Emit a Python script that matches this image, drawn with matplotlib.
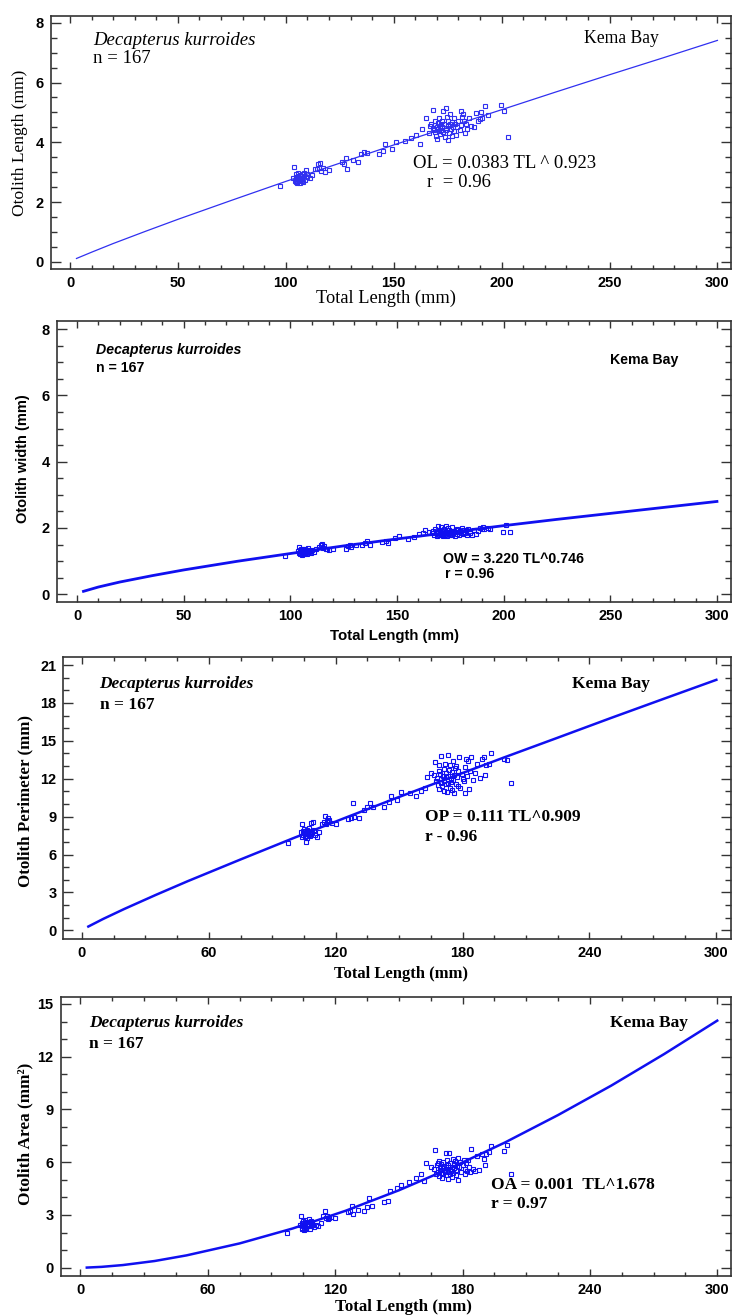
import matplotlib
matplotlib.use('Agg')
import matplotlib.pyplot as plt
from matplotlib.ticker import MultipleLocator
from matplotlib import font_manager

# Total length (mm) of each fish, same order in every otolith list below
tl = [97.5, 103.5, 104.0, 104.2, 104.5, 104.5, 104.8, 105.0, 105.3, 105.5,
      105.6, 105.8, 106.0, 106.3, 106.5, 106.5, 106.8, 107.0, 107.3, 107.5,
      107.6, 108.0, 108.4, 108.5, 108.8, 109.2, 109.6, 110.0, 111.0, 112.0,
      113.5, 114.5, 115.0, 115.5, 116.0, 116.5, 117.0, 118.0, 120.0,
      126.0, 127.0, 128.0, 128.5, 131.0, 133.5, 135.0, 136.0, 137.5, 143.0,
      145.0, 146.0, 149.0, 151.0, 155.0, 158.0, 160.5, 162.0, 163.0, 165.0,
      166.5, 167.0, 167.5, 168.0, 168.3, 168.6, 169.0, 169.0, 169.3, 169.6,
      170.0, 170.0, 170.3, 170.6, 171.0, 171.0, 171.3, 171.6, 172.0, 172.0,
      172.3, 172.6, 173.0, 173.0, 173.3, 173.6, 174.0, 174.0, 174.3, 174.6,
      175.0, 175.0, 175.3, 175.6, 176.0, 176.0, 176.5, 177.0, 177.0, 177.5,
      178.0, 178.0, 178.5, 179.0, 179.5, 180.0, 180.5, 181.0, 181.0, 181.5,
      182.0, 182.5, 183.0, 183.5, 184.0, 185.0, 186.0, 187.0, 188.0, 189.0,
      190.0, 190.5, 191.0, 192.5, 193.5, 199.5, 201.0, 203.0]

# otolith length (mm)
ol = [2.52, 2.80, 3.18, 2.72, 2.85, 2.68, 2.95, 2.78, 2.62, 2.88,
      2.75, 2.96, 2.70, 2.82, 2.64, 2.90, 2.77, 2.86, 2.72, 2.95,
      2.80, 2.68, 2.88, 2.98, 2.74, 3.07, 2.85, 2.93, 2.80, 2.90,
      3.12, 3.10, 3.28, 3.14, 3.30, 3.05, 3.15, 3.02, 3.06,
      3.34, 3.27, 3.49, 3.12, 3.40, 3.34, 3.62, 3.68, 3.64, 3.60,
      3.72, 3.94, 3.78, 4.02, 4.05, 4.15, 4.24, 3.94, 4.45, 4.82,
      4.30, 4.55, 4.62, 4.48, 5.07, 4.40, 4.58, 4.35, 4.70, 4.22,
      4.52, 4.12, 4.65, 4.45, 4.38, 4.80, 4.55, 4.28, 4.60, 4.42,
      4.70, 4.50, 4.35, 5.03, 4.62, 4.18, 4.48, 5.15, 4.40, 4.85,
      4.55, 4.08, 4.72, 4.30, 4.60, 4.95, 4.45, 4.68, 4.22, 4.52,
      4.38, 4.80, 4.62, 4.25, 4.50, 4.70, 4.40, 5.05, 4.58, 4.85,
      4.95, 4.72, 4.30, 4.60, 4.45, 4.80, 4.55, 4.52, 4.98, 4.70,
      4.78, 5.02, 4.80, 5.20, 4.90, 5.26, 5.06, 4.19]

# otolith width (mm)
ow = [1.17, 1.30, 1.42, 1.25, 1.35, 1.22, 1.38, 1.28, 1.20, 1.33,
      1.27, 1.36, 1.24, 1.31, 1.22, 1.34, 1.29, 1.37, 1.26, 1.32,
      1.28, 1.23, 1.35, 1.40, 1.27, 1.30, 1.25, 1.33, 1.28, 1.36,
      1.42, 1.48, 1.52, 1.40, 1.45, 1.36, 1.38, 1.35, 1.37,
      1.38, 1.45, 1.50, 1.42, 1.48, 1.49, 1.55, 1.60, 1.50, 1.58,
      1.62, 1.56, 1.70, 1.75, 1.68, 1.72, 1.82, 1.85, 1.95, 1.88,
      1.85, 1.92, 1.80, 1.98, 1.88, 1.76, 2.05, 1.84, 1.90, 1.78,
      1.94, 1.82, 1.87, 2.02, 1.79, 1.91, 1.86, 1.75, 1.96, 1.83,
      1.89, 1.80, 2.06, 1.85, 1.93, 1.77, 1.88, 2.00, 1.82, 1.95,
      1.86, 1.78, 1.92, 1.84, 2.03, 1.80, 1.90, 1.87, 1.76, 1.94,
      1.83, 1.97, 1.88, 1.79, 1.92, 1.85, 2.00, 1.81, 1.95, 1.89,
      1.86, 1.93, 1.80, 1.98, 1.84, 1.78, 1.95, 1.82, 1.90, 2.00,
      1.98, 2.02, 1.96, 2.00, 1.97, 1.87, 2.08, 1.89]

# otolith perimeter (mm)
op = [6.90, 7.75, 8.40, 7.35, 7.90, 7.55, 8.05, 7.70, 7.40, 7.85,
      7.60, 6.98, 7.80, 7.50, 7.95, 7.30, 7.72, 7.88, 7.58, 8.10,
      7.65, 7.45, 7.82, 8.50, 7.68, 8.55, 7.92, 7.55, 7.40, 7.75,
      8.45, 8.55, 9.08, 8.40, 8.62, 8.92, 8.70, 8.48, 8.45,
      8.85, 8.92, 10.05, 9.00, 8.92, 9.55, 9.75, 10.05, 9.80, 9.78,
      10.15, 10.65, 10.30, 10.95, 10.90, 10.65, 11.05, 11.30, 12.10, 12.45,
      12.30, 13.35, 11.80, 12.05, 11.50, 12.60, 13.10, 11.20, 12.40, 11.70,
      12.00, 13.80, 11.40, 12.25, 11.00, 12.80, 11.85, 13.20, 12.10, 11.55,
      12.45, 10.95, 13.90, 12.20, 11.65, 12.70, 11.30, 13.05, 12.00, 11.75,
      12.55, 11.10, 13.40, 11.90, 12.30, 10.85, 12.85, 11.60, 13.00, 12.15,
      11.45, 12.65, 13.70, 11.25, 12.35, 12.00, 11.80, 12.90, 10.90, 13.55,
      12.20, 13.40, 11.15, 12.60, 13.75, 11.90, 12.45, 13.20, 12.05, 13.60,
      13.75, 12.30, 13.10, 13.20, 14.00, 13.60, 13.50, 11.70]

# otolith area (mm2)
oa = [1.95, 2.40, 2.95, 2.25, 2.55, 2.20, 2.65, 2.35, 2.15, 2.50,
      2.30, 2.70, 2.42, 2.18, 2.58, 2.28, 2.48, 2.62, 2.38, 2.75,
      2.45, 2.22, 2.52, 2.68, 2.35, 2.58, 2.42, 2.30, 2.45, 2.38,
      2.55, 2.96, 3.25, 2.80, 2.95, 2.75, 2.82, 2.88, 2.85,
      3.15, 3.20, 3.50, 3.05, 3.28, 3.22, 3.45, 3.95, 3.50, 3.72,
      3.80, 4.35, 4.55, 4.70, 4.85, 5.10, 5.35, 4.92, 5.95, 5.75,
      5.60, 6.70, 5.30, 5.85, 5.45, 5.95, 5.20, 6.05, 5.55, 5.75,
      5.40, 5.90, 5.10, 5.65, 6.00, 5.35, 5.80, 5.50, 6.50, 5.25,
      5.70, 6.10, 5.45, 5.05, 5.85, 6.50, 5.60, 5.30, 5.95, 5.50,
      5.75, 5.15, 6.20, 5.40, 5.90, 5.65, 6.05, 5.25, 5.55, 5.80,
      6.25, 4.98, 5.70, 6.00, 5.45, 5.85, 6.15, 5.60, 5.35, 5.95,
      5.50, 6.15, 5.75, 5.45, 6.75, 5.60, 5.50, 6.35, 5.55, 6.45,
      6.20, 5.85, 6.45, 6.60, 6.90, 6.65, 6.95, 5.33]

# fitted power curves at these lengths
fit_tl = [3, 10, 20, 35, 50, 75, 100, 125, 150, 175, 200, 225, 250, 275, 300]
fit_ol = [0.11, 0.32, 0.61, 1.02, 1.42, 2.06, 2.69, 3.30, 3.91, 4.50, 5.09, 5.68, 6.26, 6.83, 7.41]
fit_ow = [0.09, 0.22, 0.37, 0.56, 0.735, 0.995, 1.23, 1.46, 1.67, 1.87, 2.07, 2.26, 2.44, 2.62, 2.80]
fit_op = [0.30, 0.90, 1.69, 2.81, 3.89, 5.61, 7.30, 8.94, 10.56, 12.14, 13.71, 15.25, 16.80, 18.32, 19.83]
fit_oa = [0.006, 0.047, 0.149, 0.38, 0.70, 1.38, 2.23, 3.24, 4.40, 5.70, 7.12, 8.68, 10.35, 12.15, 14.05]

species = "Decapterus kurroides"
n_label = "n = 167"
site = "Kema Bay"
y_labels = ["Otolith Length (mm)", "Otolith width (mm)",
            "Otolith Perimeter (mm)", "Otolith Area (mm²)"]
x_label = "Total Length (mm)"
equations = ["OL = 0.0383 TL ^ 0.923", "OW = 3.220 TL^0.746",
             "OP = 0.111 TL^0.909", "OA = 0.001  TL^1.678"]
r_labels = ["r  = 0.96", "r = 0.96", "r - 0.96", "r = 0.97"]

names = {f.name for f in font_manager.fontManager.ttflist}
if 'Liberation Sans Narrow' in names:
    SANS, SANS_SIZE = 'Liberation Sans Narrow', 12.5
else:
    SANS, SANS_SIZE = 'Liberation Sans', 10.5
SERIF = 'Liberation Serif'

BLUE = '#1010f0'

# per panel: axes rect, limits, tick steps, text style
panels = [
    dict(rect=[0.0696, 0.7954, 0.9277, 0.1926], xlim=(-8.8, 306.3), ylim=(-0.244, 8.234),
         xmaj=50, xmin=10, ymaj=2, ymin=0.5, fam=SERIF, size=13.5, site_size=12.7,
         weight='normal', xl_size=13.2, yl_size=12.5, lw=0.9, col='#3030f0',
         sp=(0.062, 0.904), n=(0.062, 0.833), site=(0.784, 0.912),
         eq=(0.532, 0.418), r=(0.553, 0.343), xl=(0.493, -0.1145), yl=(-0.0456, 0.499)),
    dict(rect=[0.0778, 0.5422, 0.9195, 0.2139], xlim=(-9.4, 306.6), ylim=(-0.232, 8.25),
         xmaj=50, xmin=10, ymaj=2, ymin=0.5, fam=SANS, size=SANS_SIZE - 0.3,
         site_size=SANS_SIZE - 0.3, weight='bold', xl_size=SANS_SIZE + 0.3,
         yl_size=SANS_SIZE, lw=2.0, col=BLUE,
         sp=(0.058, 0.896), n=(0.058, 0.832), site=(0.8205, 0.860),
         eq=(0.5727, 0.153), r=(0.5757, 0.0995), xl=(0.5006, -0.1198), yl=(-0.0499, 0.511)),
    dict(rect=[0.0866, 0.2859, 0.9106, 0.2147], xlim=(-8.75, 306.9), ylim=(-0.69, 21.66),
         xmaj=60, xmin=15, ymaj=3, ymin=1, fam=SERIF, size=12.5, site_size=12.5,
         weight='bold', xl_size=12, yl_size=12.2, lw=1.8, col=BLUE,
         sp=(0.054, 0.903), n=(0.054, 0.829), site=(0.762, 0.903),
         eq=(0.5416, 0.432), r=(0.5416, 0.361), xl=(0.505, -0.124), yl=(-0.0566, 0.4896)),
    dict(rect=[0.0828, 0.0299, 0.9145, 0.2122], xlim=(-9.3, 306.5), ylim=(-0.455, 15.415),
         xmaj=60, xmin=15, ymaj=3, ymin=1, fam=SERIF, size=12.5, site_size=12.5,
         weight='bold', xl_size=12.2, yl_size=12.4, lw=1.8, col=BLUE,
         sp=(0.0422, 0.906), n=(0.0422, 0.830), site=(0.8195, 0.906),
         eq=(0.642, 0.325), r=(0.642, 0.257), xl=(0.5107, -0.111), yl=(-0.0522, 0.507)),
]

values = [ol, ow, op, oa]
fits = [fit_ol, fit_ow, fit_op, fit_oa]

fig = plt.figure(figsize=(7.33, 13.15), dpi=100)

for i, p in enumerate(panels):
    ax = fig.add_axes(p['rect'])
    ax.plot(fit_tl, fits[i], color=p['col'], lw=p['lw'], zorder=2)
    ax.plot(tl, values[i], ls='none', marker='s', ms=3.5, mfc='none',
            mec=p['col'], mew=0.8, zorder=3)

    ax.set_xlim(*p['xlim'])
    ax.set_ylim(*p['ylim'])
    ax.xaxis.set_major_locator(MultipleLocator(p['xmaj']))
    ax.xaxis.set_minor_locator(MultipleLocator(p['xmin']))
    ax.yaxis.set_major_locator(MultipleLocator(p['ymaj']))
    ax.yaxis.set_minor_locator(MultipleLocator(p['ymin']))
    ax.tick_params(which='both', direction='in', top=True, right=True,
                   color='#333333', width=1.0)
    ax.tick_params(axis='y', which='major', length=7, pad=5)
    ax.tick_params(axis='y', which='minor', length=4)
    ax.tick_params(axis='x', which='major', length=5, pad=5)
    ax.tick_params(axis='x', which='minor', length=3)
    for lab in ax.get_xticklabels() + ax.get_yticklabels():
        lab.set_fontfamily(SANS)
        lab.set_fontweight('bold')
        lab.set_fontsize(SANS_SIZE)
    for s in ax.spines.values():
        s.set_color('#333333')
        s.set_linewidth(1.2)

    txt = dict(family=p['fam'], weight=p['weight'],
               transform=ax.transAxes, ha='left', va='center')
    ax.text(*p['sp'], species, style='italic', size=p['size'], **txt)
    ax.text(*p['n'], n_label, size=p['size'], **txt)
    ax.text(*p['site'], site, size=p['site_size'], **txt)
    ax.text(*p['eq'], equations[i], size=p['size'], **txt)
    ax.text(*p['r'], r_labels[i], size=p['size'], **txt)

    lab_w = 'normal' if i == 0 else 'bold'
    ax.set_xlabel(x_label, family=p['fam'], size=p['xl_size'], weight=lab_w, va='center')
    ax.xaxis.set_label_coords(*p['xl'])
    ax.set_ylabel(y_labels[i], family=p['fam'], size=p['yl_size'], weight=lab_w, va='center')
    ax.yaxis.set_label_coords(*p['yl'])

fig.savefig('out.png', dpi=100)
